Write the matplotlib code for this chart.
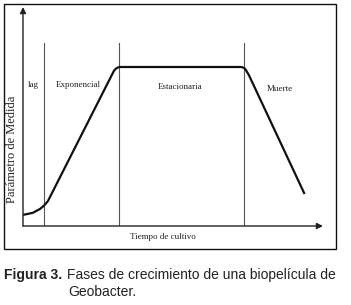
import matplotlib
matplotlib.use("Agg")
import matplotlib.pyplot as plt
from matplotlib.patches import Rectangle

# growth curve (time, parameter) in arbitrary units
tiempo = [0, 3.3, 5.7, 7, 8.3, 30.3, 31, 32, 72.7, 73.7, 74.3, 75.3, 93.7]
parametro = [3.7, 4.4, 5.7, 6.8, 8.3, 51.7, 52.5, 53, 53, 52.7, 52, 50.3, 11]

# phase boundaries
limites = [7, 32, 73.7]
limite_alto = 61

fases = ["lag", "Exponencial", "Estacionaria", "Muerte"]
fases_x = [3.3, 18.3, 52.3, 85.7]
fases_y = [47, 47, 46.3, 45.7]

W, H = 351, 305
fig = plt.figure(figsize=(W / 100, H / 100), dpi=100)

# frame around the diagram
fig.add_artist(Rectangle((4 / W, 1 - 249 / H), 332 / W, 245 / H,
                         transform=fig.transFigure, fill=False,
                         edgecolor="#111111", linewidth=1.0))

ax = fig.add_axes([23 / W, 1 - 226 / H, 300 / W, 219 / H])
ax.set_xlim(0, 100)
ax.set_ylim(0, 73)
ax.axis("off")

serif = "Liberation Serif"

# axes with arrows
ax.annotate("", xy=(100, 0), xytext=(0, 0),
            arrowprops=dict(arrowstyle="-|>", color="#222222", lw=1.0,
                            mutation_scale=9, shrinkA=0, shrinkB=0))
ax.annotate("", xy=(0, 73), xytext=(0, 0),
            arrowprops=dict(arrowstyle="-|>", color="#222222", lw=1.0,
                            mutation_scale=9, shrinkA=0, shrinkB=0))

for x in limites:
    ax.plot([x, x], [0, limite_alto], color="#555555", lw=0.8)

ax.plot(tiempo, parametro, color="#111111", lw=1.6, solid_joinstyle="round")

for nombre, x, y in zip(fases, fases_x, fases_y):
    ax.text(x, y, nombre, ha="center", va="center", family=serif,
            fontsize=6.5, color="#222222")

ax.text(46.7, -3.7, "Tiempo de cultivo", ha="center", va="center",
        family=serif, fontsize=6.5, color="#222222")
ax.text(-3.7, 25.7, "Parámetro de Medida", ha="center", va="center",
        rotation=90, family=serif, fontsize=9, color="#222222")

# caption
fig.text(4 / W, 1 - 275 / H, "Figura 3.", family="Liberation Sans",
         weight="bold", fontsize=10, va="center", color="#222222")
fig.text(67 / W, 1 - 275 / H, "Fases de crecimiento de una biopelícula de",
         family="Liberation Sans", fontsize=10, va="center", color="#222222")
fig.text(68 / W, 1 - 292 / H, "Geobacter.", family="Liberation Sans",
         fontsize=10, va="center", color="#222222")

fig.savefig("out.png", dpi=100)
